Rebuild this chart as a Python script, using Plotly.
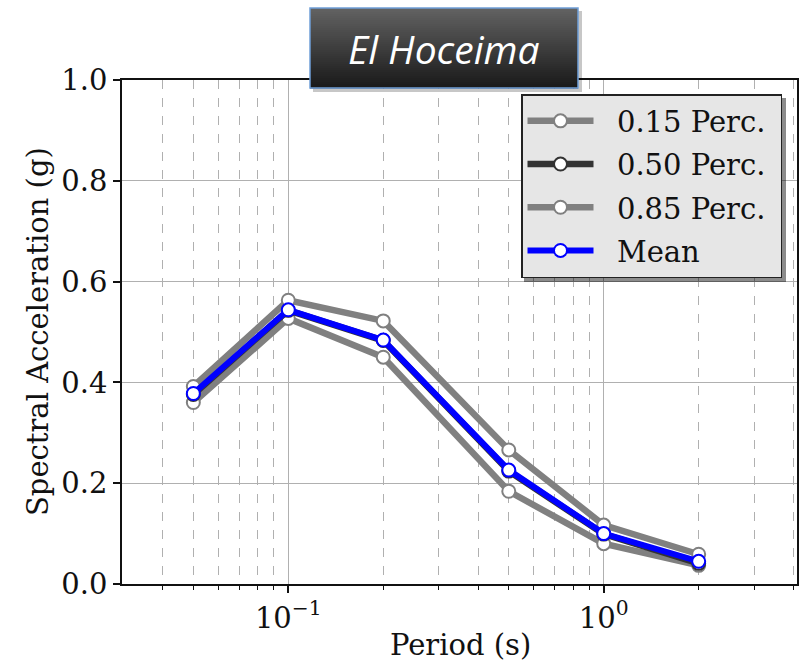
import plotly.graph_objects as go
import numpy as np

periods = [0.05, 0.1, 0.2, 0.5, 1.0, 2.0]
p15 = [0.360, 0.527, 0.450, 0.184, 0.080, 0.037]
p50 = [0.376, 0.543, 0.483, 0.224, 0.099, 0.041]
p85 = [0.392, 0.563, 0.522, 0.266, 0.117, 0.059]
mean = [0.378, 0.544, 0.484, 0.226, 0.100, 0.045]

series_names = ["0.15 Perc.", "0.50 Perc.", "0.85 Perc.", "Mean"]
major_x = [0.1, 1.0]
major_x_text = ["10<sup>−1</sup>", "10<sup>0</sup>"]
minor_x = [0.04, 0.05, 0.06, 0.07, 0.08, 0.09, 0.2, 0.3, 0.4, 0.5, 0.6, 0.7, 0.8, 0.9, 2, 3, 4]
title_text = "El Hoceima"
x_title = "Period (s)"
y_title = "Spectral Acceleration (g)"

W, H = 799, 665
L, R, T, B = 122, 797, 80, 584

def px(x):
    return (x - L) / (R - L)

def py(y):
    return (B - y) / (B - T)

fig = go.Figure()
styles = [
    dict(color="#808080", width=6.5),
    dict(color="#333333", width=6.5),
    dict(color="#808080", width=6.5),
    dict(color="#0000ff", width=6),
]
for i, (name, vals, st) in enumerate(zip(series_names, [p15, p50, p85, mean], styles)):
    fig.add_trace(go.Scatter(
        x=periods, y=vals, name="\u00a0\u00a0" + name + "\u00a0", mode="lines+markers",
        legendgroup="g%d" % i,
        line=dict(color=st["color"], width=st["width"]),
        marker=dict(symbol="circle", size=13, color="white",
                    line=dict(color=st["color"], width=2)),
    ))

font_main = dict(family="DejaVu Serif", size=29, color="#111111")

fig.update_layout(
    width=W, height=H,
    margin=dict(l=L, r=W - R, t=T, b=H - B),
    paper_bgcolor="white", plot_bgcolor="white",
    font=font_main,
    showlegend=True,
    legend=dict(
        x=px(782), y=py(94), xanchor="right", yanchor="top",
        bgcolor="#e6e6e6", bordercolor="#222222", borderwidth=1.5,
        font=dict(family="DejaVu Serif", size=29, color="#111111"),
        itemwidth=66, tracegroupgap=2.5,
    ),
    xaxis=dict(
        type="log", range=[np.log10(0.0297), np.log10(4.1)],
        tickmode="array", tickvals=major_x, ticktext=major_x_text,
        ticks="outside", ticklen=7, tickwidth=1.5, tickcolor="#111111",
        showgrid=True, gridcolor="#b0b0b0", gridwidth=1,
        showline=True, linecolor="#111111", linewidth=1.5, mirror=True,
        zeroline=False, automargin=False,
        minor=dict(tickmode="array", tickvals=minor_x, ticks="outside", ticklen=4,
                   tickcolor="#111111", tickwidth=1,
                   showgrid=True, gridcolor="#b0b0b0", griddash="dash", gridwidth=1),
    ),
    yaxis=dict(
        range=[0, 1], tickmode="linear", tick0=0, dtick=0.2, tickformat=".1f",
        ticks="outside", ticklen=7, tickwidth=1.5, tickcolor="#111111",
        showgrid=True, gridcolor="#b0b0b0", gridwidth=1,
        showline=True, linecolor="#111111", linewidth=1.5, mirror=True,
        zeroline=False, automargin=False,
    ),
)

shapes = []
# legend shadow
shapes.append(dict(type="rect", xref="paper", yref="paper",
                   x0=px(524), x1=px(786), y0=py(282), y1=py(98),
                   fillcolor="rgba(0,0,0,0.45)", line=dict(width=0), layer="above"))
# title box shadow
shapes.append(dict(type="rect", xref="paper", yref="paper",
                   x0=px(313), x1=px(582), y0=py(92), y1=py(11),
                   fillcolor="rgba(0,0,0,0.22)", line=dict(width=0), layer="above"))
# title box gradient
bx0, bx1, by0, by1 = 310, 578, 8, 88
n = 40
top_c = np.array([0x62, 0x62, 0x62])
bot_c = np.array([0x1a, 0x1a, 0x1a])
for i in range(n):
    t = i / (n - 1)
    c = (top_c * (1 - t) + bot_c * t).astype(int)
    ya = by0 + (by1 - by0) * i / n
    yb = by0 + (by1 - by0) * (i + 1) / n + 0.5
    shapes.append(dict(type="rect", xref="paper", yref="paper",
                       x0=px(bx0), x1=px(bx1), y0=py(yb), y1=py(ya),
                       fillcolor="rgb(%d,%d,%d)" % tuple(c), line=dict(width=0), layer="above"))
shapes.append(dict(type="rect", xref="paper", yref="paper",
                   x0=px(bx0), x1=px(bx1), y0=py(by1), y1=py(by0),
                   fillcolor="rgba(0,0,0,0)", line=dict(color="#6f9fd8", width=1.5), layer="above"))
fig.update_layout(shapes=shapes)

fig.add_annotation(
    x=px((bx0 + bx1) / 2), y=py((by0 + by1) / 2), xref="paper", yref="paper",
    text="<i>" + title_text + "</i>", showarrow=False,
    font=dict(family="Open Sans", size=39, color="white"),
    xanchor="center", yanchor="middle",
)
fig.add_annotation(
    x=px(460), y=py(645), xref="paper", yref="paper",
    text=x_title, showarrow=False, font=font_main,
    xanchor="center", yanchor="middle",
)
fig.add_annotation(
    x=px(38), y=py(332), xref="paper", yref="paper",
    text=y_title, showarrow=False, font=font_main, textangle=-90,
    xanchor="center", yanchor="middle",
)

fig.write_html(
    "out.html",
    config={"displayModeBar": False},
    post_script="document.body.style.margin='0';document.body.style.overflow='hidden';",
)
